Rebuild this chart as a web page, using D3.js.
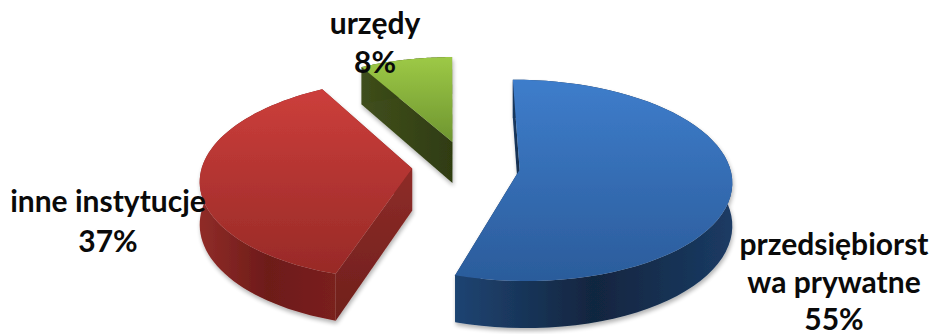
<!DOCTYPE html>
<html>
<head>
<meta charset="utf-8">
<script src="https://cdn.jsdelivr.net/npm/d3@7"></script>
<style>
  html, body { margin: 0; padding: 0; background: #fff; }
  svg { display: block; }
  text { font-family: Lato, "Open Sans", sans-serif; font-weight: 700; font-size: 30px; fill: #0a0a0a; }
</style>
</head>
<body>
<div id="vis"></div>
<script>
// chart data
const categories = ['przedsiębiorstwa prywatne', 'inne instytucje', 'urzędy'];
const shares = [55, 37, 8];
const labelLines = [['przedsiębiorst', 'wa prywatne', '55%'], ['inne instytucje', '37%'], ['urzędy', '8%']];

// colours per slice: top surface gradient, wall gradient, cut face gradient
const topColors = [['#3e7dcb', '#2b5c9b'], ['#cc3e3b', '#982a27'], ['#9dc946', '#6e9530']];
const wallColors = [['#1f4472', '#11253f', '#1b3b64'], ['#902c28', '#6d1b19', '#7a201d'], ['#3f4f1c', '#33410f', '#33410f']];
const faceColors = [['#1c3c66', '#122a48'], ['#8e2c28', '#6f1f1c'], ['#414f1d', '#2f3c11']];

const width = 932, height = 334;

const svg = d3.select('#vis')
  .append('svg')
  .attr('width', width)
  .attr('height', height)
  .attr('viewBox', [0, 0, width, height].join(' '));

const defs = svg.append('defs');

defs.append('filter').attr('id', 'soft')
  .attr('x', '-5%').attr('y', '-5%').attr('width', '110%').attr('height', '110%')
  .append('feGaussianBlur').attr('stdDeviation', 0.45);

const shadow = defs.append('filter').attr('id', 'shadow')
  .attr('x', '-10%').attr('y', '-10%').attr('width', '120%').attr('height', '120%');
shadow.append('feGaussianBlur').attr('in', 'SourceAlpha').attr('stdDeviation', 2).attr('result', 'b');
shadow.append('feOffset').attr('in', 'b').attr('dx', 1).attr('dy', 3).attr('result', 'o');
shadow.append('feComponentTransfer').attr('in', 'o').attr('result', 'c')
  .append('feFuncA').attr('type', 'linear').attr('slope', 0.3);
const merge = shadow.append('feMerge');
merge.append('feMergeNode').attr('in', 'c');
merge.append('feMergeNode').attr('in', 'SourceGraphic');

function gradient(id, colors, vertical) {
  const g = defs.append('linearGradient').attr('id', id)
    .attr('x1', 0).attr('y1', 0)
    .attr('x2', vertical ? 0 : 1).attr('y2', vertical ? 1 : 0);
  colors.forEach((c, i) => {
    g.append('stop').attr('offset', i / (colors.length - 1)).attr('stop-color', c);
  });
}

categories.forEach((c, i) => {
  gradient('top' + i, topColors[i], true);
  gradient('wall' + i, wallColors[i], false);
  gradient('face' + i, faceColors[i], i != 1 ? false : true);
});

// pie in its own plane, then a small perspective projection
const radius = 210, explode = 54, thick = 42;
const cx = 466, cy = 166, tilt = 0.47, persp = 0.0005;
const rotation = -0.5 * Math.PI / 180;

function project(X, Z, drop) {
  const s = 1 / (1 + persp * Z);
  return [cx + X * s, cy - Z * tilt * s + drop * thick * s];
}

const pie = d3.pie().sort(null).startAngle(rotation).endAngle(rotation + 2 * Math.PI);
const slices = pie(shares);
const line = d3.line();

const chart = svg.append('g').attr('filter', 'url(#soft)');

// drawn back to front: urzędy, inne instytucje, przedsiębiorstwa
[2, 1, 0].forEach(i => {
  const d = slices[i];
  const mid = (d.startAngle + d.endAngle) / 2;
  const ox = explode * Math.sin(mid), oz = explode * Math.cos(mid);
  const rim = d3.range(0, 61).map(k => d3.scaleLinear().domain([0, 60]).range([d.startAngle, d.endAngle])(k));
  const rimPt = (a, drop) => project(ox + radius * Math.sin(a), oz + radius * Math.cos(a), drop);
  const apex = drop => project(ox, oz, drop);

  const g = chart.append('g').attr('filter', 'url(#shadow)');

  // cut faces, the hidden one first
  [d.endAngle, d.startAngle].forEach(a => {
    g.append('path')
      .attr('d', line([apex(0), rimPt(a, 0), rimPt(a, 1), apex(1)]) + 'Z')
      .attr('fill', 'url(#face' + i + ')');
  });

  // outer wall
  g.append('path')
    .attr('d', line(rim.map(a => rimPt(a, 0)).concat(rim.slice().reverse().map(a => rimPt(a, 1)))) + 'Z')
    .attr('fill', 'url(#wall' + i + ')');

  // top surface
  g.append('path')
    .attr('d', line([apex(0)].concat(rim.map(a => rimPt(a, 0)))) + 'Z')
    .attr('fill', 'url(#top' + i + ')');
});

// labels
const labelX = [834, 108, 375];
const labelY = [255, 212, 34];
const lineGap = [37.5, 40, 39];
labelLines.forEach((lines, i) => {
  const t = svg.append('text').attr('text-anchor', 'middle');
  lines.forEach((l, j) => {
    t.append('tspan')
      .attr('x', labelX[i])
      .attr('y', labelY[i] + j * lineGap[i])
      .text(l);
  });
});
</script>
</body>
</html>
